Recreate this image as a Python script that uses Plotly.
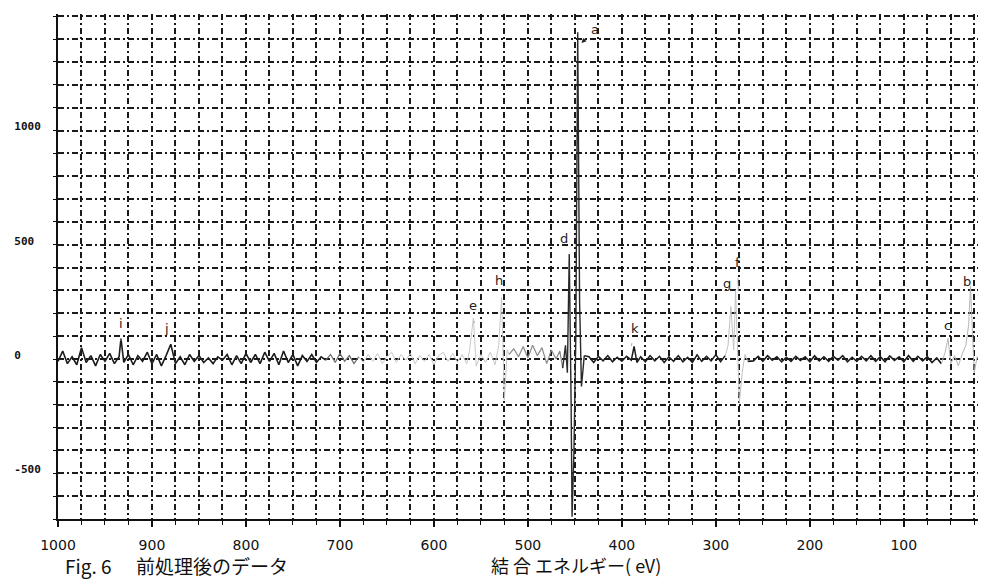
import plotly.graph_objects as go

# ---------------- data ----------------
ENERGY_EV = [
    1000, 995, 990, 985, 980, 975, 970, 965, 960, 955,
    950, 945, 940, 935, 933, 930, 925, 920, 915, 910,
    905, 900, 895, 890, 885, 880, 875, 870, 865, 860,
    855, 850, 845, 840, 835, 830, 825, 820, 815, 810,
    805, 800, 795, 790, 785, 780, 775, 770, 765, 760,
    755, 750, 745, 740, 735, 730, 725, 720, 715,
    710, 705, 700, 695, 690, 685, 680,
    675, 670, 665, 660, 655, 650, 645, 640, 635, 630,
    625, 620, 615, 610, 605, 600, 595, 590, 585, 580,
    575, 570, 565, 562, 558, 555, 550, 545, 540, 535,
    531, 528, 525, 522, 520,
    515, 510, 505, 500, 495, 490, 485, 480, 475, 470, 466, 463,
    460, 458, 456, 454, 453, 451, 449, 447, 445, 443, 440,
    435, 430, 425, 420, 415, 410, 405, 400, 395, 390,
    387, 384, 380, 375, 370, 365, 360, 355, 350, 345,
    340, 335, 330, 325, 320, 315, 310, 305, 300, 295, 290,
    287, 284, 281, 279, 277, 275, 272, 269, 266,
    260, 255, 250, 245, 240, 235, 230, 225, 220, 215,
    210, 205, 200, 195, 190, 185, 180, 175, 170, 165,
    160, 155, 150, 145, 140, 135, 130, 125, 120, 115,
    110, 105, 100, 95, 90, 85, 80, 75, 70, 65, 60,
    56, 53, 50, 46, 42, 38, 34, 31, 29, 27, 25, 22, 20,
]
INTENSITY = [
    -10, 35, -20, 10, -25, 50, -15, 15, -30, 20,
    -10, 25, -20, 10, 90, -15, 20, -25, 15, -10,
    30, -20, 20, -30, 15, 65, -20, 10, -25, 20,
    -10, 15, -15, 5, -20, 10, -5, 20, -25, 15,
    -20, 25, -15, 20, -20, 30, -10, 25, -25, 35,
    -15, 20, -30, 15, -10, 20, -15, 10, -5,
    20, -15, 25, -10, 15, -20, 10,
    -15, 20, -10, 25, -20, 10, 30, -15, 20, -5,
    25, -20, 15, -10, 20, -25, 15, 30, -10, 25,
    -15, 20, -20, 40, 180, -30, 20, -15, 30, -25,
    60, 270, -180, 40, 20,
    45, 10, 55, 5, 60, 15, 50, -20, 40, 0, 35, -40,
    60, -60, 460, -200, -690, -400, 100, 1430, 250, -120, 15,
    10, -15, 12, -8, 15, -12, 8, -10, 12, -5,
    55, -15, 10, -12, 15, -8, 12, -15, 10, -10,
    15, -12, 8, -15, 18, -10, 12, -8, 20, -12, 15,
    60, 230, 40, 300, 80, -190, -60, 20, -10,
    -8, 12, -10, 15, -5, 10, -12, 8, -10, 12,
    -6, 10, -12, 14, -8, 10, -10, 12, -5, 15,
    -12, 8, -10, 12, -8, 15, -10, 10, -12, 14,
    -6, 10, -12, 15, -10, 12, -8, 10, -15, 5, -20,
    30, 90, -20, 15, -30, 20, 60, 150, 320, 120, -60, 10, 0,
]
assert len(ENERGY_EV) == len(INTENSITY)

X_TICKS = [1000, 900, 800, 700, 600, 500, 400, 300, 200, 100]
Y_TICKS = [1500, 1000, 500, 0, -500]
Y_TICK_TEXT = ["1500", "1000", "500\u00a0", "0\u00a0\u00a0\u00a0", "-500"]

PEAK_LABELS = ["a", "d", "h", "e", "k", "g", "f", "c", "b", "i", "j"]
PEAK_EV = [443, 455, 528, 557, 390, 280, 276, 52, 28, 933, 881]
PEAK_Y = [1383, 464, 276, 158, 57, 289, 298, 79, 276, 79, 70]

# ---------------- styling ----------------
SEGMENTS = [
    (1000, 715, "#1c1c1c", 1.6),
    (715, 680, "#6a6a6a", 1.2),
    (680, 520, "#c8c8c8", 1.0),
    (520, 463, "#8a8a8a", 1.2),
    (463, 440, "#2a2a2a", 1.4),
    (440, 290, "#1c1c1c", 1.5),
    (290, 266, "#c2c2c2", 1.0),
    (266, 60, "#1c1c1c", 1.6),
    (60, 20, "#b5b5b5", 1.0),
]
LABEL_OFFSETS = [(14, -14), (-6, -15), (-3, -15), (-1, -17), (4, -18), (-8, -10),
                 (-1, -28), (-1, -15), (-4, -14), (0, -17), (-3, -15)]

# plot area in page pixels; the page body has an 8px margin
BODY = 8
PLOT_L, PLOT_R, PLOT_T, PLOT_B = 55, 979, 14, 519
W, H = 986 - BODY, 584 - BODY


def paper_x(px):
    return (px - PLOT_L) / (PLOT_R - PLOT_L)


def paper_y(py):
    return (PLOT_B - py) / (PLOT_B - PLOT_T)


GRID_DASH = "6px,3px,2px,3px"
GRID_COLOR = "#1a1a1a"

fig = go.Figure()
for hi, lo, col, wid in SEGMENTS:
    xs = [e for e in ENERGY_EV if lo <= e <= hi]
    ys = [v for e, v in zip(ENERGY_EV, INTENSITY) if lo <= e <= hi]
    fig.add_trace(go.Scatter(x=xs, y=ys, mode="lines",
                             line=dict(color=col, width=wid),
                             showlegend=False, hoverinfo="skip"))

annotations = []
for lab, ev, yv, (ax, ay) in zip(PEAK_LABELS, PEAK_EV, PEAK_Y, LABEL_OFFSETS):
    annotations.append(dict(
        x=ev, y=yv, xref="x", yref="y", text=lab, showarrow=True,
        ax=ax, ay=ay, arrowhead=2 if lab == "a" else 0, arrowsize=0.8,
        arrowwidth=1.2 if lab == "a" else 0.8,
        arrowcolor="#222" if lab == "a" else "#999",
        standoff=0, startstandoff=6,
        font=dict(family="DejaVu Sans", size=13, color="#222"),
    ))

annotations += [
    dict(text="Fig. 6", x=paper_x(60), y=paper_y(565), xref="paper", yref="paper",
         xanchor="left", yanchor="middle", showarrow=False,
         font=dict(family="Noto Sans CJK JP", size=19, color="#111")),
    dict(text="前処理後のデータ", x=paper_x(131), y=paper_y(565), xref="paper", yref="paper",
         xanchor="left", yanchor="middle", showarrow=False,
         font=dict(family="Noto Sans CJK JP", size=19, color="#111")),
    dict(text="結 合 エネルギー( eV)", x=paper_x(487), y=paper_y(565), xref="paper",
         yref="paper", xanchor="left", yanchor="middle", showarrow=False,
         font=dict(family="Noto Sans CJK JP", size=18, color="#111")),
]

fig.update_layout(
    width=W, height=H,
    margin=dict(l=PLOT_L - BODY, r=W - (PLOT_R - BODY), t=PLOT_T - BODY,
                b=H - (PLOT_B - BODY)),
    paper_bgcolor="white", plot_bgcolor="white",
    showlegend=False,
    annotations=annotations,
    xaxis=dict(
        range=[1000, 20], tickvals=X_TICKS,
        showgrid=True, gridcolor=GRID_COLOR, griddash=GRID_DASH, gridwidth=1.6,
        zeroline=False, showline=True, linecolor="#111", linewidth=2,
        ticks="outside", ticklen=6, tickwidth=1.5, tickcolor="#111",
        ticklabelstandoff=6,
        tickfont=dict(family="DejaVu Sans", size=14, color="#111"),
        minor=dict(dtick=25, tick0=0, showgrid=True, gridcolor=GRID_COLOR,
                   griddash=GRID_DASH, gridwidth=1.6, ticks="outside",
                   ticklen=4, tickcolor="#111", tickwidth=1.2),
    ),
    yaxis=dict(
        range=[-700, 1510], tickvals=Y_TICKS, ticktext=Y_TICK_TEXT,
        showgrid=True, gridcolor=GRID_COLOR, griddash=GRID_DASH, gridwidth=1.6,
        zeroline=False, showline=True, linecolor="#111", linewidth=2,
        ticks="outside", ticklen=3, tickcolor="#111",
        ticklabelstandoff=10, ticklabelshift=-4,
        tickfont=dict(family="DejaVu Sans Mono", size=11, color="#111", weight="bold"),
        minor=dict(dtick=100, tick0=0, showgrid=True, gridcolor=GRID_COLOR,
                   griddash=GRID_DASH, gridwidth=1.6, ticks="outside",
                   ticklen=3, tickcolor="#111", tickwidth=1.2),
    ),
)

fig.write_html("out.html")
